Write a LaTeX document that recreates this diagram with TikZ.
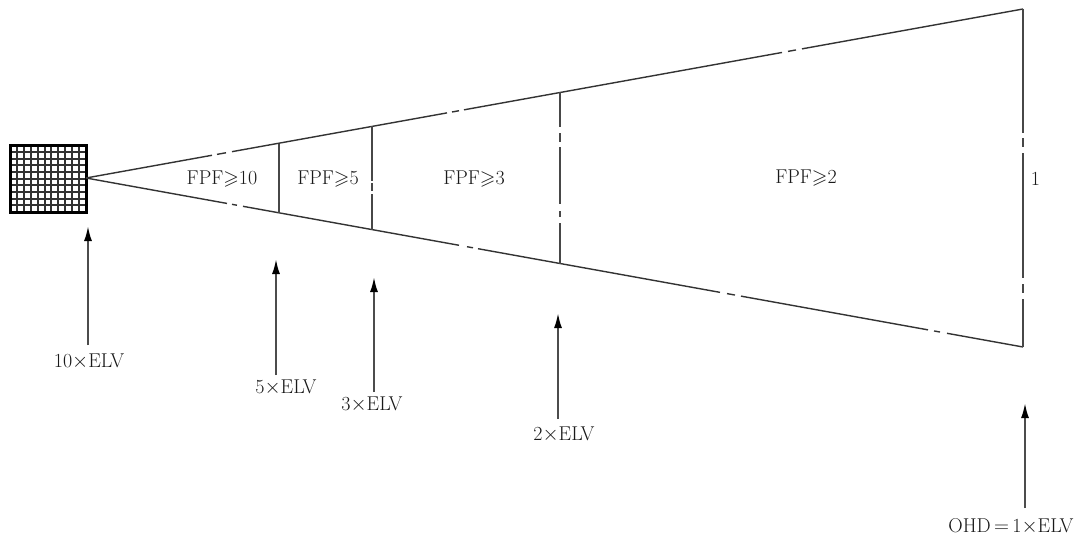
\documentclass[tikz,border=0pt]{standalone}
\usepackage{amssymb}
\usetikzlibrary{arrows.meta}
\tikzset{
  edge/.style={draw=black!80,line width=1.4pt},
  upright/.style={draw=black!72,line width=2pt},
  grid line/.style={draw=black!80,line width=2pt},
  frame line/.style={draw=black,line width=3pt},
  up arrow/.style={draw=black!70,line width=2pt,-{Latex[length=15pt,width=8pt,black]}},
  lab/.style={inner sep=0pt,font=\fontsize{20}{24}\selectfont,text=black!90},
}
\begin{document}
\begin{tikzpicture}[x=1pt,y=-1pt]
\useasboundingbox (0,0) rectangle (1082,543);
\fill[white] (0,0) rectangle (1082,543);
% detector square
\foreach \x in {17,24,31,38,45,51,58,65,72,79}{\draw[grid line] (\x,145) -- (\x,212);}
\foreach \y in {152,159,165,172,179,185,192,199,205}{\draw[grid line] (10,\y) -- (86,\y);}
\draw[frame line] (10,145) rectangle (86,212);
% cone upper edge
\foreach \a/\b in {86/212,217/226,232/447,452/459,464/782,788/796,802/1023}{
  \draw[edge] (\a,{178-0.18036*(\a-86)}) -- (\b,{178-0.18036*(\b-86)});}
% cone lower edge
\foreach \a/\b in {86/227,232/237,243/459,467/473,478/720,727/735,741/928,934/940,947/1023}{
  \draw[edge] (\a,{178+0.18036*(\a-86)}) -- (\b,{178+0.18036*(\b-86)});}
% verticals
\draw[upright] (279,143.5) -- (279,212.5);
\foreach \a/\b in {126/181,183/191,194/230}{\draw[upright] (372,\a) -- (372,\b);}
\foreach \a/\b in {92/127,133/142,147/204,211/217,223/264}{\draw[upright] (560,\a) -- (560,\b);}
\foreach \a/\b in {9/133,138/147,153/278,284/293,299/347}{\draw[upright] (1023,\a) -- (1023,\b);}
% zone labels
\node[lab] (z10) at (222,179) {FPF$\geqslant$10};
\node[lab] (z5) at (328,179) {FPF$\geqslant$5};
\node[lab] (z3) at (474,179) {FPF$\geqslant$3};
\node[lab] (z2) at (806,178) {FPF$\geqslant$2};
\node[lab] (one) at (1035.5,179) {1};
% distance labels and arrows
\node[lab] (l10) at (89,362) {10$\times$ELV};
\node[lab] (l5) at (286,388) {5$\times$ELV};
\node[lab] (l3) at (372,405) {3$\times$ELV};
\node[lab] (l2) at (564,435) {2$\times$ELV};
\node[lab] (l1) at (1011,526) {OHD\,$=$\,1$\times$ELV};
\coordinate (t10) at (88,226); \coordinate (s10) at (88,345);
\coordinate (t5) at (276,259); \coordinate (s5) at (276,375);
\coordinate (t3) at (374,277); \coordinate (s3) at (374,392);
\coordinate (t2) at (558,313); \coordinate (s2) at (558,419);
\coordinate (t1) at (1025,403); \coordinate (s1) at (1025,508);
\foreach \n in {10,5,3,2,1}{\draw[up arrow] (s\n) -- (t\n);}
\end{tikzpicture}
\end{document}
